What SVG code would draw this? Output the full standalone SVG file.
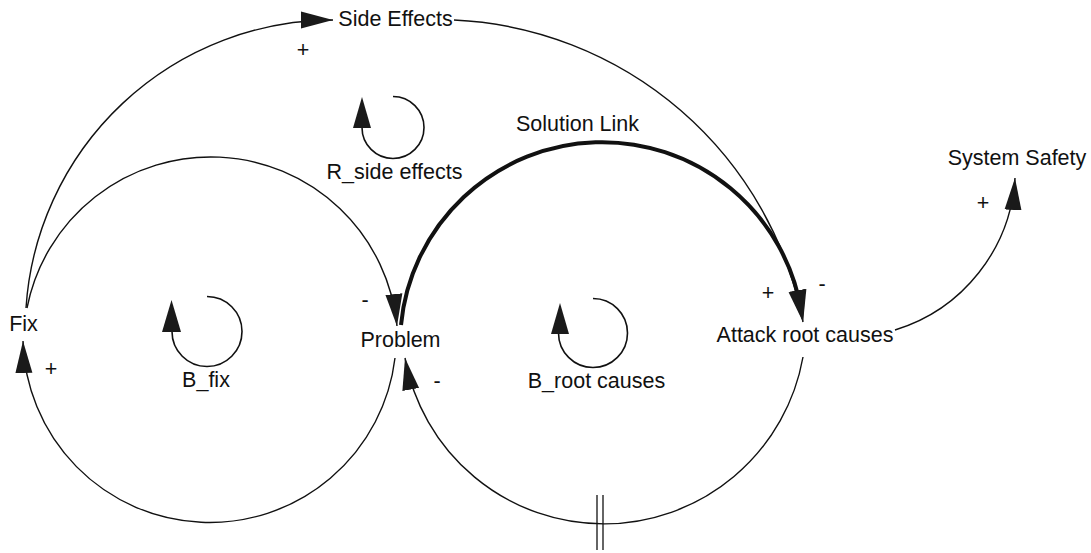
<svg xmlns="http://www.w3.org/2000/svg" width="1091" height="553" viewBox="0 0 1091 553">
  <defs>
    <style>
      text { font-family: "Liberation Sans", Arial, sans-serif; font-size: 21.5px; fill: #111; }
      .node text, .loop text { text-anchor: middle; }
      .pol { text-anchor: middle; }
      .link { fill: none; stroke: #111; stroke-width: 1.4; }
      .thick { fill: none; stroke: #111; stroke-width: 4; }
      .head { fill: #1a1a1a; stroke: none; }
      .loopline { fill: none; stroke: #111; stroke-width: 1.6; }
      .delay { stroke: #111; stroke-width: 1.3; }
    </style>
    <marker id="arrow" markerUnits="userSpaceOnUse" markerWidth="34" markerHeight="20" viewBox="0 0 34 20" refX="32" refY="9" orient="auto">
      <path class="head" d="M0,0.5 L32,9 L0,17.5 Z"/>
    </marker>
    <marker id="arrowThick" markerUnits="userSpaceOnUse" markerWidth="34" markerHeight="20" viewBox="0 0 34 20" refX="22" refY="9" orient="auto">
      <path class="head" d="M0,0.5 L32,9 L0,17.5 Z"/>
    </marker>
  </defs>

  <rect x="0" y="0" width="1091" height="553" fill="#fff"/>

  <!-- causal links -->
  <g id="connectors">
    <!-- Fix -> Side Effects -->
    <path class="link" d="M26,308 A308,308 0 0 1 333,20" marker-end="url(#arrow)"/>
    <!-- Side Effects -> Attack root causes -->
    <path class="link" d="M454,20 A373,373 0 0 1 803,322" marker-end="url(#arrow)"/>
    <!-- Fix -> Problem -->
    <path class="link" d="M27,308 A187.2,187.2 0 0 1 397,326" marker-end="url(#arrow)"/>
    <!-- Problem -> Attack root causes (Solution Link) -->
    <path class="thick" d="M401,325 A202,202 0 0 1 801.5,312" marker-end="url(#arrowThick)"/>
    <!-- Attack root causes -> Problem (delayed) -->
    <path class="link" d="M803,357 A202.2,202.2 0 0 1 405,358" marker-end="url(#arrow)"/>
    <!-- Problem -> Fix -->
    <path class="link" d="M395,358 A186.7,186.7 0 0 1 23,341" marker-end="url(#arrow)"/>
    <!-- Attack root causes -> System Safety -->
    <path class="link" d="M895,330 A170,170 0 0 0 1015,178" marker-end="url(#arrow)"/>
    <!-- delay mark -->
    <line class="delay" x1="597" y1="495" x2="597" y2="550"/>
    <line class="delay" x1="603" y1="495" x2="603" y2="550"/>
    <!-- polarities -->
    <text class="pol" x="303" y="56.6">+</text>
    <text class="pol" x="822" y="290.8">-</text>
    <text class="pol" x="768" y="299.6">+</text>
    <text class="pol" x="365" y="306.8">-</text>
    <text class="pol" x="437" y="387.8">-</text>
    <text class="pol" x="51" y="375.6">+</text>
    <text class="pol" x="983" y="209.6">+</text>
    <text class="pol" x="577.5" y="131">Solution Link</text>
  </g>

  <!-- variables -->
  <g id="node-fix" class="node"><text x="23.5" y="331">Fix</text></g>
  <g id="node-side-effects" class="node"><text x="395.5" y="26">Side Effects</text></g>
  <g id="node-problem" class="node"><text x="400.5" y="347">Problem</text></g>
  <g id="node-attack-root-causes" class="node"><text x="805" y="342">Attack root causes</text></g>
  <g id="node-system-safety" class="node"><text x="1017" y="165">System Safety</text></g>

  <!-- loop identifiers -->
  <g id="loop-r-side-effects" class="loop">
    <path class="loopline" d="M393,96.5 A31,31 0 1 1 362,127.5"/>
    <polygon class="head" points="362,97 353,128 371,128"/>
    <text x="394.5" y="179">R_side effects</text>
  </g>
  <g id="loop-b-fix" class="loop">
    <path class="loopline" d="M207,296.5 A35,35 0 1 1 172,331.5"/>
    <polygon class="head" points="171.5,300 162,332 181,332"/>
    <text x="206" y="387">B_fix</text>
  </g>
  <g id="loop-b-root-causes" class="loop">
    <path class="loopline" d="M593,298.5 A34.5,34.5 0 1 1 558.5,333"/>
    <polygon class="head" points="560,303 551,334 569,334"/>
    <text x="596.5" y="388">B_root causes</text>
  </g>
</svg>
